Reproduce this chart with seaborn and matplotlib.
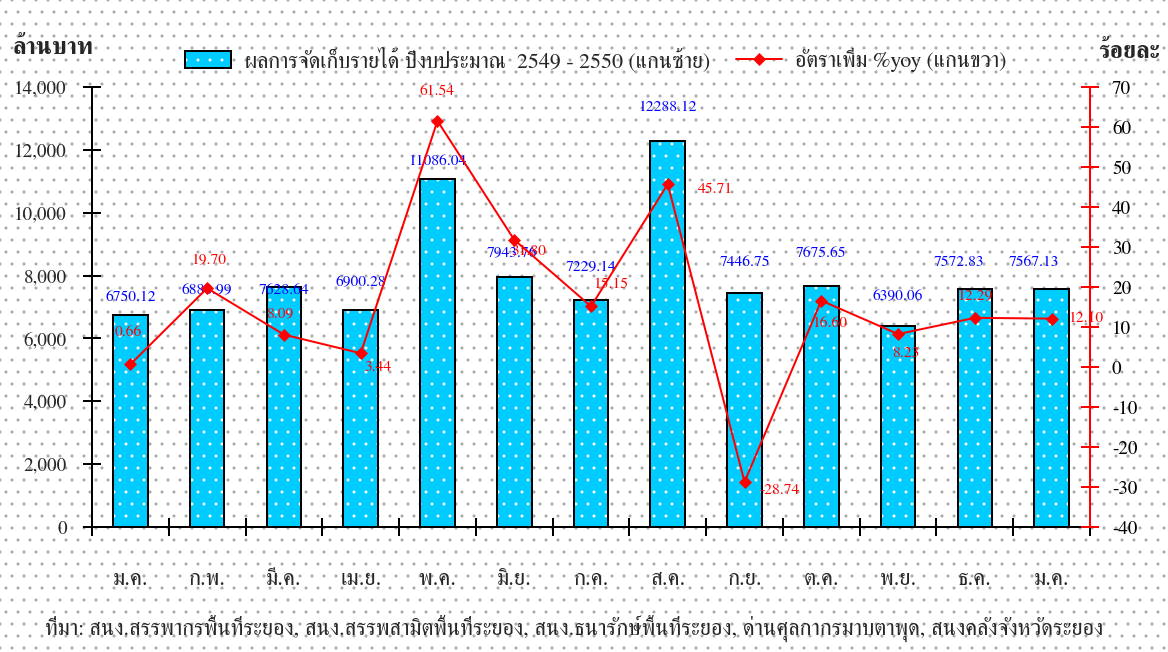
import matplotlib
matplotlib.use("Agg")
import numpy as np
import pandas as pd
import matplotlib.pyplot as plt
import matplotlib.colors as mcolors
import seaborn as sns

# data
months = ["ม.ค.", "ก.พ.", "มี.ค.", "เม.ย.", "พ.ค.", "มิ.ย.", "ก.ค.",
          "ส.ค.", "ก.ย.", "ต.ค.", "พ.ย.", "ธ.ค.", "ม.ค."]
revenue = [6750.12, 6888.99, 7628.64, 6900.28, 11086.04, 7943.76, 7229.14,
           12288.12, 7446.75, 7675.65, 6390.06, 7572.83, 7567.13]
yoy = [0.66, 19.70, 8.09, 3.44, 61.54, 31.80, 15.15,
       45.71, -28.74, 16.60, 8.23, 12.29, 12.10]

bar_label = "ผลการจัดเก็บรายได้ ปีงบประมาณ  2549 - 2550 (แกนซ้าย)"
line_label = "อัตราเพิ่ม %yoy (แกนขวา)"
source = ("ที่มา: สนง.สรรพากรพื้นที่ระยอง, สนง.สรรพสามิตพื้นที่ระยอง, "
          "สนง.ธนารักษ์พื้นที่ระยอง, ด่านศุลกากรมาบตาพุด, สนงคลังจังหวัดระยอง")

# where the value labels sit, relative to bar top / marker (px)
bar_lab_off = [(0, 18), (0, 20), (0, -3), (0, 28), (0, 17), (-2, 24), (0, 32),
               (0, 33), (0, 31), (0, 32), (0, 30), (-16, 27), (-18, 27)]
yoy_lab_off = [(-2, 32), (2, 28), (-4, 21), (17, -14), (0, 30), (15, -12), (20, 22),
               (48, -5), (35, -8), (9, -23), (8, -19), (0, 21), (34, 0)]

df = pd.DataFrame({"pos": np.arange(len(months)), "month": months,
                   "revenue": revenue, "yoy": yoy})

sns.set_theme(style="white")
plt.rcParams["font.family"] = ["FreeSerif", "Liberation Serif", "DejaVu Serif"]
plt.rcParams["axes.unicode_minus"] = False
plt.rcParams["hatch.linewidth"] = 0.5

CYAN = "#00CCFF"
DPI = 72
fig = plt.figure(figsize=(1168 / DPI, 652 / DPI), dpi=DPI)
fig.patch.set_facecolor("white")
fig.patch.set_edgecolor("#a6a6a6")
fig.patch.set_linewidth(0)
fig.patch.set_hatch(".")

ax = fig.add_axes([92 / 1168, 1 - 527 / 652, 998 / 1168, 440 / 652])
ax.set_facecolor("none")

sns.barplot(data=df, x="pos", y="revenue", ax=ax, color=CYAN, saturation=1,
            width=0.45, edgecolor="black", linewidth=2, hatch=".",
            label=bar_label, legend=False)
for p in ax.patches:
    p._hatch_color = mcolors.to_rgba("white")

ax.set_xlim(-0.5, len(months) - 0.5)
ax.set_ylim(0, 14000)
ax.set_yticks(np.arange(0, 14001, 2000))
ax.yaxis.set_major_formatter(matplotlib.ticker.StrMethodFormatter("{x:,.0f}"))
ax.set_xticks(df["pos"], months)
ax.set_xticks(np.arange(-0.5, len(months)), minor=True)
ax.tick_params(axis="x", which="major", length=0, pad=42, labelsize=22.5)
ax.tick_params(axis="x", which="minor", direction="inout", length=18, width=2,
               color="black", bottom=True)
ax.tick_params(axis="y", direction="inout", length=18, width=2, color="black",
               pad=16, labelsize=19, left=True)
ax.set_xlabel("")
ax.set_ylabel("")
for s in ["top", "right"]:
    ax.spines[s].set_visible(False)
for s in ["left", "bottom"]:
    ax.spines[s].set_color("black")
    ax.spines[s].set_linewidth(2)

for p, v, (dx, dy) in zip(ax.patches, revenue, bar_lab_off):
    ax.annotate(f"{v:.2f}", (p.get_x() + p.get_width() / 2, p.get_height()),
                xytext=(dx, dy), textcoords="offset points", ha="center",
                va="center", color="#0000FF", fontsize=15.5)

ax2 = ax.twinx()
ax2.set_facecolor("none")
sns.lineplot(data=df, x="pos", y="yoy", ax=ax2, color="#FF0000", lw=2,
             marker="D", markersize=9, markeredgecolor="#FF0000",
             label=line_label)
if ax2.get_legend() is not None:
    ax2.get_legend().remove()
ax2.set_ylim(-40, 70)
ax2.set_yticks(np.arange(-40, 71, 10))
ax2.set_xlim(-0.5, len(months) - 0.5)
ax2.tick_params(axis="y", direction="inout", length=18, width=2, color="#FF0000",
                labelcolor="black", pad=13, labelsize=19, right=True)
ax2.set_xlabel("")
ax2.set_ylabel("")
for s in ["top", "left", "bottom"]:
    ax2.spines[s].set_visible(False)
ax2.spines["right"].set_color("#FF0000")
ax2.spines["right"].set_linewidth(2)

for x, v, (dx, dy) in zip(df["pos"], yoy, yoy_lab_off):
    ax2.annotate(f"{v:.2f}", (x, v), xytext=(dx, dy), textcoords="offset points",
                 ha="center", va="center", color="#FF0000", fontsize=15.5)

h1, l1 = ax.get_legend_handles_labels()
h2, l2 = ax2.get_legend_handles_labels()
fig.legend(h1 + h2, l1 + l2, loc="center", bbox_to_anchor=(596 / 1168, 1 - 60 / 652),
           ncol=2, frameon=False, fontsize=22, handlelength=2.1, handleheight=0.8,
           handletextpad=0.6, columnspacing=1.2)

fig.text(12 / 1168, 1 - 48 / 652, "ล้านบาท", ha="left", va="center",
         fontsize=24, fontweight="bold")
fig.text(1160 / 1168, 1 - 52 / 652, "ร้อยละ", ha="right", va="center",
         fontsize=24, fontweight="bold")
fig.text(45 / 1168, 1 - 628 / 652, source, ha="left", va="center", fontsize=22.2)

fig.savefig("out.png", dpi=DPI)
